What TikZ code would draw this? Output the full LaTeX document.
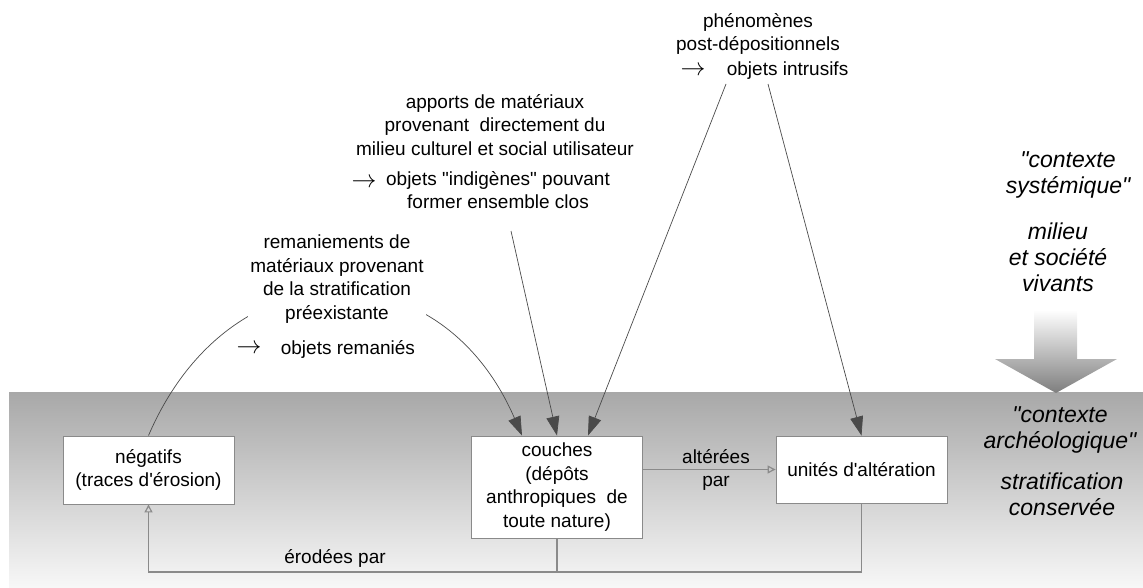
\documentclass[tikz,border=0pt]{standalone}
\usepackage{fontspec}
\setmainfont{Liberation Sans}
\usetikzlibrary{arrows.meta,positioning}

\definecolor{bordgris}{HTML}{8A8A8A}
\definecolor{trait}{HTML}{4A4A4A}
\definecolor{bandehaut}{HTML}{A8A8A8}
\definecolor{bandebas}{HTML}{F7F7F7}
\definecolor{flechebas}{HTML}{7E7E7E}

\newcommand{\fontcorps}{\fontsize{19}{23.5}\selectfont}
\newcommand{\fontgrand}{\fontsize{23}{26}\selectfont}
\newcommand{\fontfleche}{\fontsize{24}{24}\selectfont}

\tikzset{
  boite/.style={draw=bordgris, line width=0.9pt, fill=white, minimum width=171pt,
    align=center, font=\fontcorps, inner sep=2pt},
  texte/.style={align=center, font=\fontcorps, inner sep=2pt},
  symbole/.style={font=\fontfleche, inner sep=0pt},
  contexte/.style={align=center, font=\fontgrand\itshape, inner sep=2pt},
  fleche/.style={draw=trait, line width=0.7pt, -{Triangle[length=19pt,width=13pt]}},
  lien/.style={draw=bordgris, line width=1.2pt},
  lienfl/.style={lien, -{Triangle[open,length=8pt,width=8pt]}}
}

\begin{document}
\begin{tikzpicture}[x=1pt,y=-1pt]
        \useasboundingbox (0,0) rectangle (1143,588);
        \shade[top color=bandehaut, bottom color=bandebas] (9,392) rectangle (1143,587);
        \shade[top color=white, bottom color=flechebas] (1034,310) -- (1077,310) -- (1077,359)
            -- (1117,359) -- (1056,393) -- (995,359) -- (1034,359) -- cycle;

        \node[boite, minimum height=68pt] (negatifs) at (148.5,470) {négatifs\\(traces d\textquotesingle érosion)};
        \node[boite, minimum height=102pt] (couches) at (557,487) {couches\\(dépôts\\anthropiques\ \ de\\toute nature)};
        \node[boite, minimum height=67pt] (unites) at (861.5,469.5) {unités d\textquotesingle altération};

        \draw[fleche] (negatifs.north) .. controls (230,246) and (440,246) .. ([xshift=-35pt]couches.north);
        \node[texte, fill=white] (remaniements) at (337,279) {remaniements de\\matériaux provenant\\de la stratification\\préexistante};
        \node[symbole] (flecheA) at (249,349) {$\rightarrow$};
        \node[texte, right=17pt of flecheA] (remanies) {objets remaniés};

        \node[texte] (apports) at (495,125) {apports de matériaux\\provenant\ \ directement du\\milieu culturel et social utilisateur};
        \node[symbole] (flecheB) at (364,183) {$\rightarrow$};
        \node[texte] (indigenes) at (498,190) {objets \textquotedbl indigènes\textquotedbl{} pouvant\\former ensemble clos};
        \coordinate (apportsbas) at (511,231);
        \draw[fleche] (apportsbas) -- (couches.north);

        \node[texte] (phenomenes) at (758,34) {phénomènes\\post-dépositionnels};
        \node[symbole] (flecheC) at (693,71) {$\rightarrow$};
        \node[texte, right=19pt of flecheC] (intrusifs) {objets intrusifs};
        \coordinate (phenoA) at (726,84);
        \coordinate (phenoB) at (768,84);
        \draw[fleche] (phenoA) -- ([xshift=31pt]couches.north);
        \draw[fleche] (phenoB) -- (unites.north);

        \draw[lienfl] (couches.east |- unites.west) -- (unites.west);
        \node[texte] (alterees) at (716,470) {altérées\\par};

        \coordinate (basligne) at (0,572);
        \draw[lien] (unites.south) -- (unites.south |- basligne) -- (couches.south |- basligne);
        \draw[lienfl] (couches.south) -- (couches.south |- basligne) -| (negatifs.south);
        \node[texte] (erodees) at (335,558) {érodées par};

        \node[contexte] (systemique) at (1068,174.5) {\textquotedbl contexte\\systémique\textquotedbl};
        \node[contexte] (milieu) at (1058,257) {milieu\\et société\\vivants};
        \node[contexte] (archeo) at (1060,429.5) {\textquotedbl contexte\\archéologique\textquotedbl};
        \node[contexte] (conservee) at (1062,494.5) {stratification\\conservée};
    \end{tikzpicture}
\end{document}
